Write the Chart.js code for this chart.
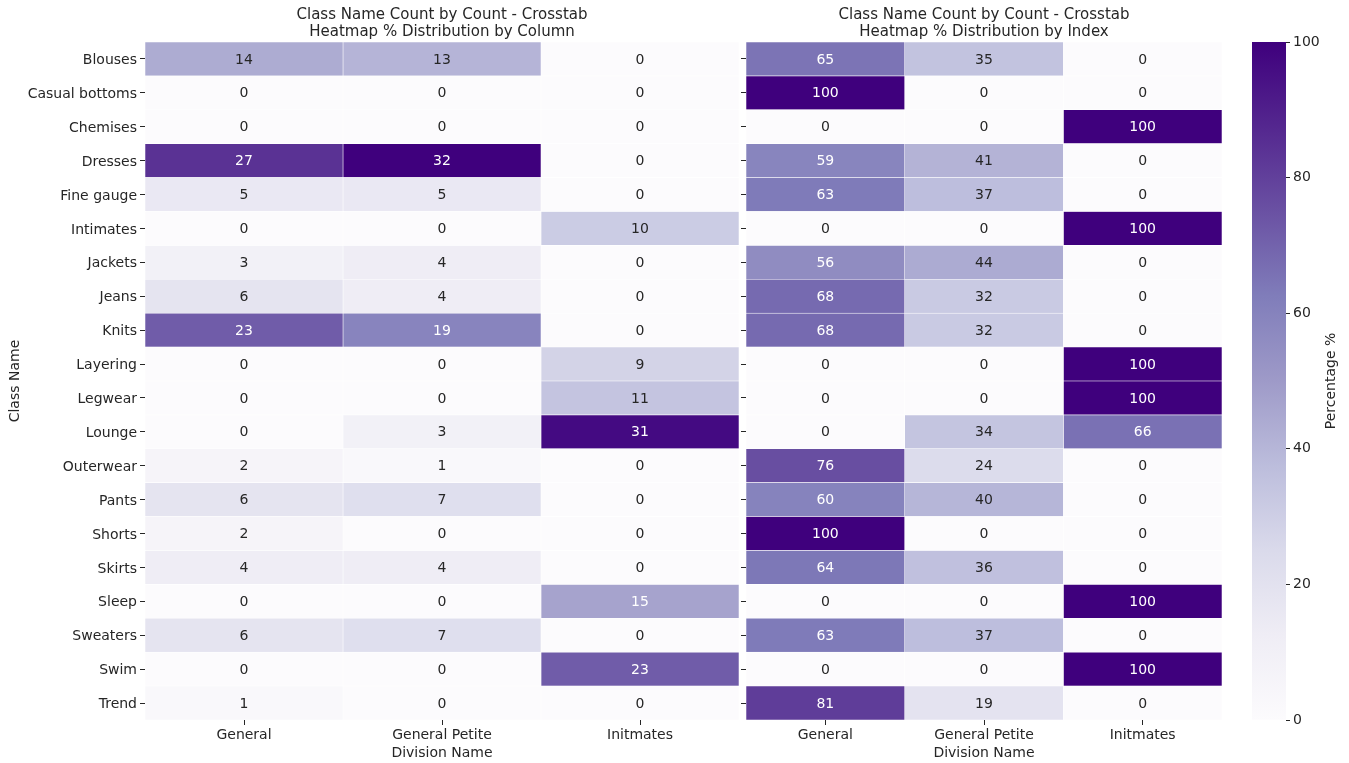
<!DOCTYPE html>
<html>
<head>
<meta charset="utf-8">
<script src="https://cdn.jsdelivr.net/npm/chart.js@4"></script>
<style>
body { margin: 0; background: #fff; width: 1349px; height: 763px; overflow: hidden; position: relative; }
canvas { position: absolute; top: 0; }
</style>
</head>
<body>
<canvas id="colChart" width="745" height="763" style="left:0px"></canvas>
<canvas id="idxChart" width="530" height="763" style="left:700px"></canvas>
<canvas id="barChart" width="109" height="763" style="left:1240px"></canvas>
<script>
const classNames = ['Blouses', 'Casual bottoms', 'Chemises', 'Dresses', 'Fine gauge', 'Intimates',
  'Jackets', 'Jeans', 'Knits', 'Layering', 'Legwear', 'Lounge', 'Outerwear', 'Pants', 'Shorts',
  'Skirts', 'Sleep', 'Sweaters', 'Swim', 'Trend'];
const divisions = ['General', 'General Petite', 'Initmates'];

// % distribution by column
const colGeneral   = [14, 0, 0, 27, 5, 0, 3, 6, 23, 0, 0, 0, 2, 6, 2, 4, 0, 6, 0, 1];
const colPetite    = [13, 0, 0, 32, 5, 0, 4, 4, 19, 0, 0, 3, 1, 7, 0, 4, 0, 7, 0, 0];
const colIntimates = [0, 0, 0, 0, 0, 10, 0, 0, 0, 9, 11, 31, 0, 0, 0, 0, 15, 0, 23, 0];

// % distribution by index
const idxGeneral   = [65, 100, 0, 59, 63, 0, 56, 68, 68, 0, 0, 0, 76, 60, 100, 64, 0, 63, 0, 81];
const idxPetite    = [35, 0, 0, 41, 37, 0, 44, 32, 32, 0, 0, 34, 24, 40, 0, 36, 0, 37, 0, 19];
const idxIntimates = [0, 0, 100, 0, 0, 100, 0, 0, 0, 100, 100, 66, 0, 0, 0, 0, 100, 0, 100, 0];

const colorbarTicks = [0, 20, 40, 60, 80, 100];

// matplotlib "Purples"
const purples = ['#fcfbfd', '#efedf5', '#dadaeb', '#bcbddc', '#9e9ac8', '#807dba', '#6a51a3', '#54278f', '#3f007d'];
const textDark = '#262626';
const font = { family: '"DejaVu Sans", sans-serif', size: 14 };

function hexToRgb(h) {
  return [1, 3, 5].map(i => parseInt(h.substr(i, 2), 16));
}

function purpleRgb(t) {
  t = Math.max(0, Math.min(1, t));
  const pos = t * (purples.length - 1);
  const i = Math.min(Math.floor(pos), purples.length - 2);
  const f = pos - i;
  const a = hexToRgb(purples[i]), b = hexToRgb(purples[i + 1]);
  return a.map((v, k) => Math.round(v + (b[k] - v) * f));
}

function purple(t) {
  const c = purpleRgb(t);
  return 'rgb(' + c.join(',') + ')';
}

// same rule seaborn uses for annotation colour
function textColor(t) {
  const lin = purpleRgb(t).map(v => {
    v = v / 255;
    return v <= 0.03928 ? v / 12.92 : Math.pow((v + 0.055) / 1.055, 2.4);
  });
  const lum = 0.2126 * lin[0] + 0.7152 * lin[1] + 0.0722 * lin[2];
  return lum > 0.408 ? textDark : '#ffffff';
}

const annotate = {
  id: 'annotate',
  afterDatasetsDraw(chart) {
    const ctx = chart.ctx;
    ctx.save();
    ctx.font = font.size + 'px ' + font.family;
    ctx.textAlign = 'center';
    ctx.textBaseline = 'middle';
    chart.data.datasets.forEach((ds, di) => {
      chart.getDatasetMeta(di).data.forEach((bar, j) => {
        const v = ds.values[j];
        const p = bar.getCenterPoint();
        ctx.fillStyle = textColor(v / ds.vmax);
        ctx.fillText(String(v), p.x, p.y + 1);
      });
    });
    ctx.restore();
  }
};

function heatmap(id, subtitle, columns, vmax, yWidth, showLabels, rightPad) {
  const datasets = columns.map((vals, i) => ({
    label: divisions[i],
    data: vals.map(() => 1),
    values: vals,
    vmax: vmax,
    backgroundColor: vals.map(v => purple(v / vmax)),
    borderColor: '#ffffff',
    borderWidth: 0.6,
    borderSkipped: false,
    barPercentage: 1,
    categoryPercentage: 1
  }));

  return new Chart(document.getElementById(id), {
    type: 'bar',
    data: { labels: classNames, datasets: datasets },
    options: {
      indexAxis: 'y',
      responsive: false,
      animation: false,
      layout: { padding: { right: rightPad } },
      plugins: {
        legend: { display: false },
        tooltip: { enabled: false },
        title: {
          display: true,
          fullSize: false,
          text: ['Class Name Count by Count - Crosstab', subtitle],
          color: textDark,
          font: { family: font.family, size: 15, weight: 'normal', lineHeight: 1.1 },
          padding: { top: 7, bottom: 2 }
        }
      },
      scales: {
        x: {
          type: 'linear',
          stacked: true,
          min: 0,
          max: 3,
          afterBuildTicks: s => { s.ticks = divisions.map((d, i) => ({ value: i + 0.5 })); },
          ticks: {
            callback: v => divisions[Math.round(v - 0.5)],
            color: textDark, font: font, padding: 2, maxRotation: 0, autoSkip: false
          },
          grid: { drawOnChartArea: false, tickLength: 5, tickColor: textDark, tickWidth: 1 },
          border: { display: false },
          title: { display: true, text: 'Division Name', color: textDark, font: font, padding: { top: 0, bottom: 1 } },
          afterFit: s => { s.height = 43; }
        },
        y: {
          stacked: true,
          grid: { offset: false, drawOnChartArea: false, tickLength: 5, tickColor: textDark, tickWidth: 1 },
          border: { display: false },
          ticks: { display: showLabels, color: textDark, font: font, padding: 3, labelOffset: 1.5 },
          title: { display: showLabels, text: 'Class Name', color: textDark, font: font, padding: { top: 7, bottom: 0 } },
          afterFit: s => { s.width = yWidth; }
        }
      }
    },
    plugins: [annotate]
  });
}

heatmap('colChart', 'Heatmap % Distribution by Column', [colGeneral, colPetite, colIntimates], 32, 145, true, 6);
heatmap('idxChart', 'Heatmap % Distribution by Index', [idxGeneral, idxPetite, idxIntimates], 100, 46, false, 8);

const colorbarLabel = {
  id: 'colorbarLabel',
  afterDraw(chart) {
    const ctx = chart.ctx;
    const a = chart.chartArea;
    ctx.save();
    ctx.translate(chart.width - 18, (a.top + a.bottom) / 2);
    ctx.rotate(-Math.PI / 2);
    ctx.font = font.size + 'px ' + font.family;
    ctx.fillStyle = textDark;
    ctx.textAlign = 'center';
    ctx.textBaseline = 'middle';
    ctx.fillText('Percentage %', 0, 0);
    ctx.restore();
  }
};

new Chart(document.getElementById('barChart'), {
  type: 'bar',
  data: {
    labels: [''],
    datasets: [{
      data: [[0, 100]],
      backgroundColor: c => {
        const a = c.chart.chartArea;
        if (!a) return purples[4];
        const g = c.chart.ctx.createLinearGradient(0, a.bottom, 0, a.top);
        purples.forEach((col, i) => g.addColorStop(i / (purples.length - 1), col));
        return g;
      },
      borderWidth: 0,
      barPercentage: 1,
      categoryPercentage: 1
    }]
  },
  options: {
    responsive: false,
    animation: false,
    layout: { padding: { top: 42, bottom: 43, left: 12, right: 0 } },
    plugins: { legend: { display: false }, tooltip: { enabled: false } },
    scales: {
      x: { display: false },
      y: {
        position: 'right',
        min: 0,
        max: 100,
        afterBuildTicks: s => { s.ticks = colorbarTicks.map(v => ({ value: v })); },
        ticks: { color: textDark, font: font, padding: 3 },
        grid: { drawOnChartArea: false, tickLength: 4, tickColor: textDark, tickWidth: 1 },
        border: { display: false },
        afterFit: s => { s.width = 63; }
      }
    }
  },
  plugins: [colorbarLabel]
});
</script>
</body>
</html>
